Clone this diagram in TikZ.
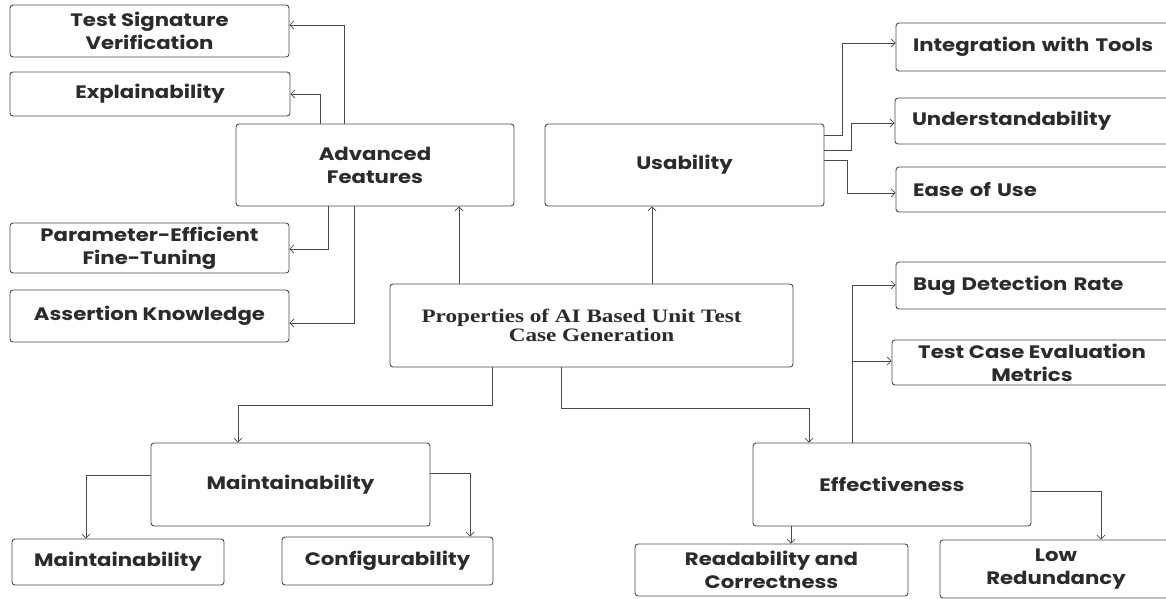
\documentclass[tikz,border=0pt]{standalone}
\usepackage{fontspec}
\setmainfont{Poppins}[FakeStretch=1.18]
\newfontfamily\propfont{Liberation Serif}[FakeStretch=1.22]
\usetikzlibrary{arrows.meta}
\definecolor{inkline}{HTML}{4A4A4A}
\definecolor{inktext}{HTML}{2B2B2B}
\tikzset{
  box/.style={draw=inkline, line width=0.9pt, rounded corners=3pt, inner sep=0pt,
    text=inktext, font=\fontsize{18}{23}\selectfont\bfseries, align=center},
  lbox/.style={box, align=left},
  propbox/.style={box, font=\propfont\fontsize{19}{17}\selectfont\bfseries},
  conn/.style={draw=inkline, line width=0.8pt,
    -{Straight Barb[length=4pt,width=8pt,line width=0.7pt]}}
}
% box from its corners: name, x1, y1, x2, y2, style, text
\newcommand\cornerbox[7]{%
  \node[#6, minimum width={#4pt-#2pt}, minimum height={#5pt-#3pt}]
    (#1) at ({(#2+#4)/2},{(#3+#5)/2}) {#7};}
% left-aligned text: name, x1, y1, x2, y2, text
\newcommand\leftbox[6]{%
  \node[lbox, minimum width={#4pt-#2pt}, minimum height={#5pt-#3pt},
    text width={#4pt-#2pt-34pt}]
    (#1) at ({(#2+#4)/2},{(#3+#5)/2}) {#6};}
\begin{document}
\begin{tikzpicture}[x=1pt,y=-1pt]
\useasboundingbox (0,0) rectangle (1166,598);
\fill[white] (0,0) rectangle (1166,598);

% left column: advanced features
\cornerbox{tsv}{10}{5}{289}{57}{box}{Test Signature\\Verification}
\cornerbox{expl}{10}{72}{290}{116}{box}{Explainability}
\cornerbox{adv}{236}{124}{514}{206}{box}{Advanced\\Features}
\cornerbox{peft}{10}{223}{289}{273}{box}{Parameter-Efficient\\Fine-Tuning}
\cornerbox{asrt}{10}{290}{289}{342}{box}{Assertion Knowledge}

% usability branch
\cornerbox{usa}{545}{124}{824}{206}{box}{Usability}
\leftbox{integ}{896}{23}{1184}{71}{Integration with Tools}
\leftbox{under}{895}{98}{1184}{144}{Understandability}
\leftbox{ease}{896}{167}{1184}{212}{Ease of Use}

% root
\cornerbox{prop}{390}{284}{793}{367}{propbox}{Properties of AI Based Unit Test\hspace*{20pt}\\Case Generation}

% effectiveness branch
\leftbox{bug}{896}{262}{1184}{309}{Bug Detection Rate}
\cornerbox{tcem}{892}{340}{1172}{385}{box}{Test Case Evaluation\\Metrics}
\cornerbox{eff}{753}{443}{1031}{526}{box}{Effectiveness}
\cornerbox{read}{635}{544}{908}{596}{box}{Readability and\\Correctness}
\cornerbox{low}{940}{540}{1172}{598}{box}{Low\\Redundancy}

% maintainability branch
\cornerbox{maint}{151}{443}{430}{526}{box}{Maintainability}
\cornerbox{maintb}{12}{539}{224}{585}{box}{Maintainability}
\cornerbox{config}{282}{537}{493}{585}{box}{Configurability}

% connectors
\draw[conn] (adv.north -| 344,0) |- (tsv.east |- 0,25);
\draw[conn] (adv.north -| 320,0) |- (expl.east |- 0,94);
\draw[conn] (adv.south -| 328,0) |- (peft.east |- 0,249);
\draw[conn] (adv.south -| 354,0) |- (asrt.east |- 0,323);

\draw[conn] (prop.north -| 459,0) -- (adv.south -| 459,0);
\draw[conn] (prop.north -| 652,0) -- (usa.south -| 652,0);

\draw[conn] (usa.east |- 0,135) -- ++(18,0) |- (integ.west |- 0,43);
\draw[conn] (usa.east |- 0,150) -- ++(27,0) |- (under.west |- 0,123);
\draw[conn] (usa.east |- 0,160) -- ++(23,0) |- (ease.west |- 0,193);

\draw[conn] (prop.south -| 492,0) -- (492,405) -| (maint.north -| 238,0);
\draw[conn] (prop.south -| 561,0) -- (561,408) -| (eff.north -| 809,0);

\draw[conn] (eff.north -| 852,0) |- (bug.west |- 0,285);
\draw[conn] (852,361) -- (tcem.west |- 0,361);
\draw[conn] (eff.south -| 791,0) -- (read.north -| 791,0);
\draw[conn] (eff.east |- 0,491) -| (low.north -| 1101,0);

\draw[conn] (maint.west |- 0,475) -| (maintb.north -| 86,0);
\draw[conn] (maint.east |- 0,473) -| (config.north -| 470,0);
\end{tikzpicture}
\end{document}
